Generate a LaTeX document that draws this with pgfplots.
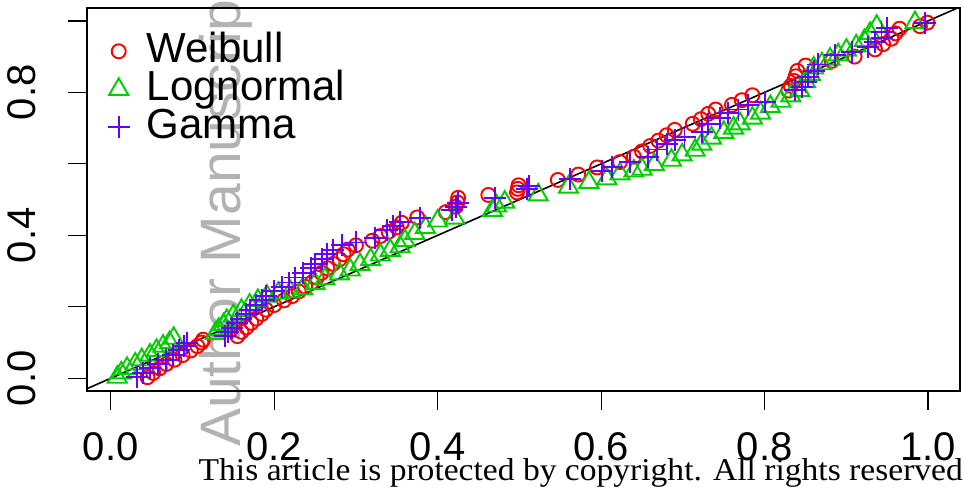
\documentclass[border=0pt]{standalone}
\usepackage{fontspec}
\setmainfont{Liberation Sans}
\newfontfamily\stampfont{Liberation Serif}
\usepackage{pgfplots}
\pgfplotsset{compat=1.18}
\definecolor{wred}{RGB}{255,0,0}
\definecolor{lgreen}{RGB}{0,205,0}
\definecolor{gpurple}{RGB}{102,0,255}

\begin{document}
\begin{tikzpicture}[x=1pt,y=1pt]
\useasboundingbox (0,0) rectangle (963,487);
\node[rotate=90, anchor=base west, inner sep=0pt, text=black!30, font=\fontsize{57}{57}\selectfont] at (240,40) {Author Manuscript};
\begin{axis}[
  at={(87pt,96pt)}, anchor=south west,
  scale only axis, width=873pt, height=383pt,
  xmin=-0.029, xmax=1.039, ymin=-0.0355, ymax=1.036,
  axis line style={line width=1.3pt},
  tick style={line width=1.3pt, black},
  tick align=outside, major tick length=19pt,
  xtick={0,0.2,0.4,0.6,0.8,1}, xticklabels={0.0,0.2,0.4,0.6,0.8,1.0},
  ytick={0,0.2,0.4,0.6,0.8,1}, yticklabels={0.0,,0.4,,0.8,},
  xtick pos=bottom, ytick pos=left,
  /pgf/number format/assume math mode=true,
  tick label style={font=\fontsize{40}{40}\selectfont, inner sep=0pt},
  xticklabel style={anchor=north, yshift=-22pt},
  yticklabel style={rotate=90, anchor=base, yshift=33pt},
  legend style={draw=none, fill=none, at={(0.0235,0.937)}, anchor=north west,
    font=\fontsize{42}{42}\selectfont, row sep=0pt, inner sep=0pt,
    nodes={inner xsep=17pt, inner ysep=0pt, text height=30pt, text depth=8pt}},
  legend cell align=left,
]
\addplot[black, line width=1.6pt, forget plot] coordinates {(-0.1,-0.1) (1.1,1.1)};
\addplot[only marks, mark=o, mark size=7pt, wred, mark options={line width=1.9pt}] table {
x y
0.045 0.003
0.052 0.015
0.060 0.028
0.068 0.040
0.078 0.052
0.088 0.065
0.098 0.078
0.106 0.090
0.111 0.100
0.113 0.108
0.155 0.118
0.160 0.130
0.166 0.142
0.172 0.155
0.178 0.167
0.185 0.180
0.190 0.192
0.200 0.205
0.212 0.218
0.222 0.230
0.230 0.243
0.238 0.256
0.246 0.268
0.252 0.282
0.258 0.295
0.265 0.308
0.272 0.320
0.280 0.333
0.285 0.347
0.290 0.360
0.300 0.372
0.320 0.385
0.330 0.398
0.340 0.410
0.350 0.422
0.356 0.435
0.375 0.450
0.410 0.465
0.422 0.480
0.424 0.492
0.425 0.505
0.462 0.513
0.497 0.520
0.498 0.530
0.499 0.540
0.547 0.555
0.572 0.570
0.595 0.590
0.623 0.605
0.640 0.620
0.650 0.635
0.660 0.650
0.670 0.665
0.680 0.680
0.690 0.695
0.712 0.712
0.722 0.725
0.731 0.740
0.740 0.752
0.760 0.765
0.772 0.778
0.785 0.792
0.829 0.805
0.832 0.818
0.836 0.832
0.838 0.845
0.840 0.860
0.850 0.875
0.882 0.888
0.910 0.900
0.935 0.920
0.945 0.935
0.955 0.950
0.960 0.965
0.965 0.978
0.990 0.985
0.999 0.995
};
\addlegendentry{Weibull}
\addplot[only marks, mark=triangle, mark size=11pt, lgreen, mark options={line width=1.9pt}] table {
x y
0.008 0.003
0.013 0.015
0.020 0.028
0.030 0.040
0.038 0.052
0.048 0.065
0.056 0.078
0.064 0.090
0.072 0.100
0.077 0.112
0.128 0.125
0.132 0.137
0.138 0.150
0.142 0.162
0.150 0.175
0.160 0.190
0.170 0.205
0.180 0.218
0.191 0.230
0.205 0.238
0.220 0.242
0.235 0.250
0.250 0.265
0.262 0.278
0.280 0.292
0.293 0.303
0.305 0.318
0.318 0.332
0.330 0.345
0.342 0.358
0.354 0.368
0.360 0.385
0.372 0.405
0.385 0.422
0.400 0.440
0.421 0.448
0.467 0.470
0.472 0.482
0.482 0.493
0.523 0.513
0.560 0.535
0.585 0.548
0.607 0.558
0.623 0.572
0.640 0.580
0.650 0.585
0.665 0.598
0.686 0.610
0.699 0.625
0.715 0.638
0.723 0.655
0.735 0.672
0.750 0.688
0.762 0.700
0.770 0.712
0.785 0.728
0.795 0.742
0.807 0.760
0.820 0.775
0.832 0.790
0.843 0.805
0.850 0.830
0.856 0.850
0.860 0.868
0.870 0.880
0.880 0.893
0.890 0.905
0.900 0.918
0.912 0.930
0.922 0.945
0.929 0.965
0.937 0.985
0.984 0.995
};
\addlegendentry{Lognormal}
\addplot[only marks, mark=+, mark size=11pt, gpurple, mark options={line width=1.9pt}] table {
x y
0.032 0.003
0.040 0.015
0.048 0.028
0.058 0.040
0.068 0.052
0.076 0.065
0.084 0.078
0.090 0.090
0.093 0.100
0.140 0.118
0.143 0.130
0.148 0.142
0.155 0.155
0.160 0.167
0.165 0.180
0.170 0.192
0.178 0.205
0.185 0.218
0.190 0.230
0.200 0.243
0.210 0.256
0.218 0.268
0.225 0.282
0.235 0.295
0.245 0.308
0.250 0.320
0.258 0.333
0.265 0.347
0.272 0.360
0.283 0.372
0.300 0.380
0.323 0.392
0.338 0.414
0.345 0.425
0.354 0.437
0.378 0.448
0.418 0.470
0.422 0.480
0.425 0.490
0.470 0.504
0.509 0.530
0.512 0.538
0.562 0.558
0.601 0.580
0.613 0.590
0.635 0.605
0.657 0.620
0.668 0.640
0.680 0.655
0.690 0.667
0.702 0.675
0.723 0.689
0.731 0.712
0.745 0.728
0.755 0.742
0.768 0.752
0.780 0.765
0.800 0.773
0.837 0.806
0.846 0.815
0.850 0.828
0.853 0.842
0.860 0.860
0.865 0.878
0.886 0.904
0.907 0.913
0.926 0.927
0.935 0.940
0.943 0.952
0.943 0.968
0.950 0.980
0.996 0.995
};
\addlegendentry{Gamma}
\end{axis}
\node[anchor=base east, inner sep=0pt] at (963,7) {\resizebox{764pt}{22pt}{\stampfont This article is protected by copyright. All rights reserved}};
\end{tikzpicture}
\end{document}
